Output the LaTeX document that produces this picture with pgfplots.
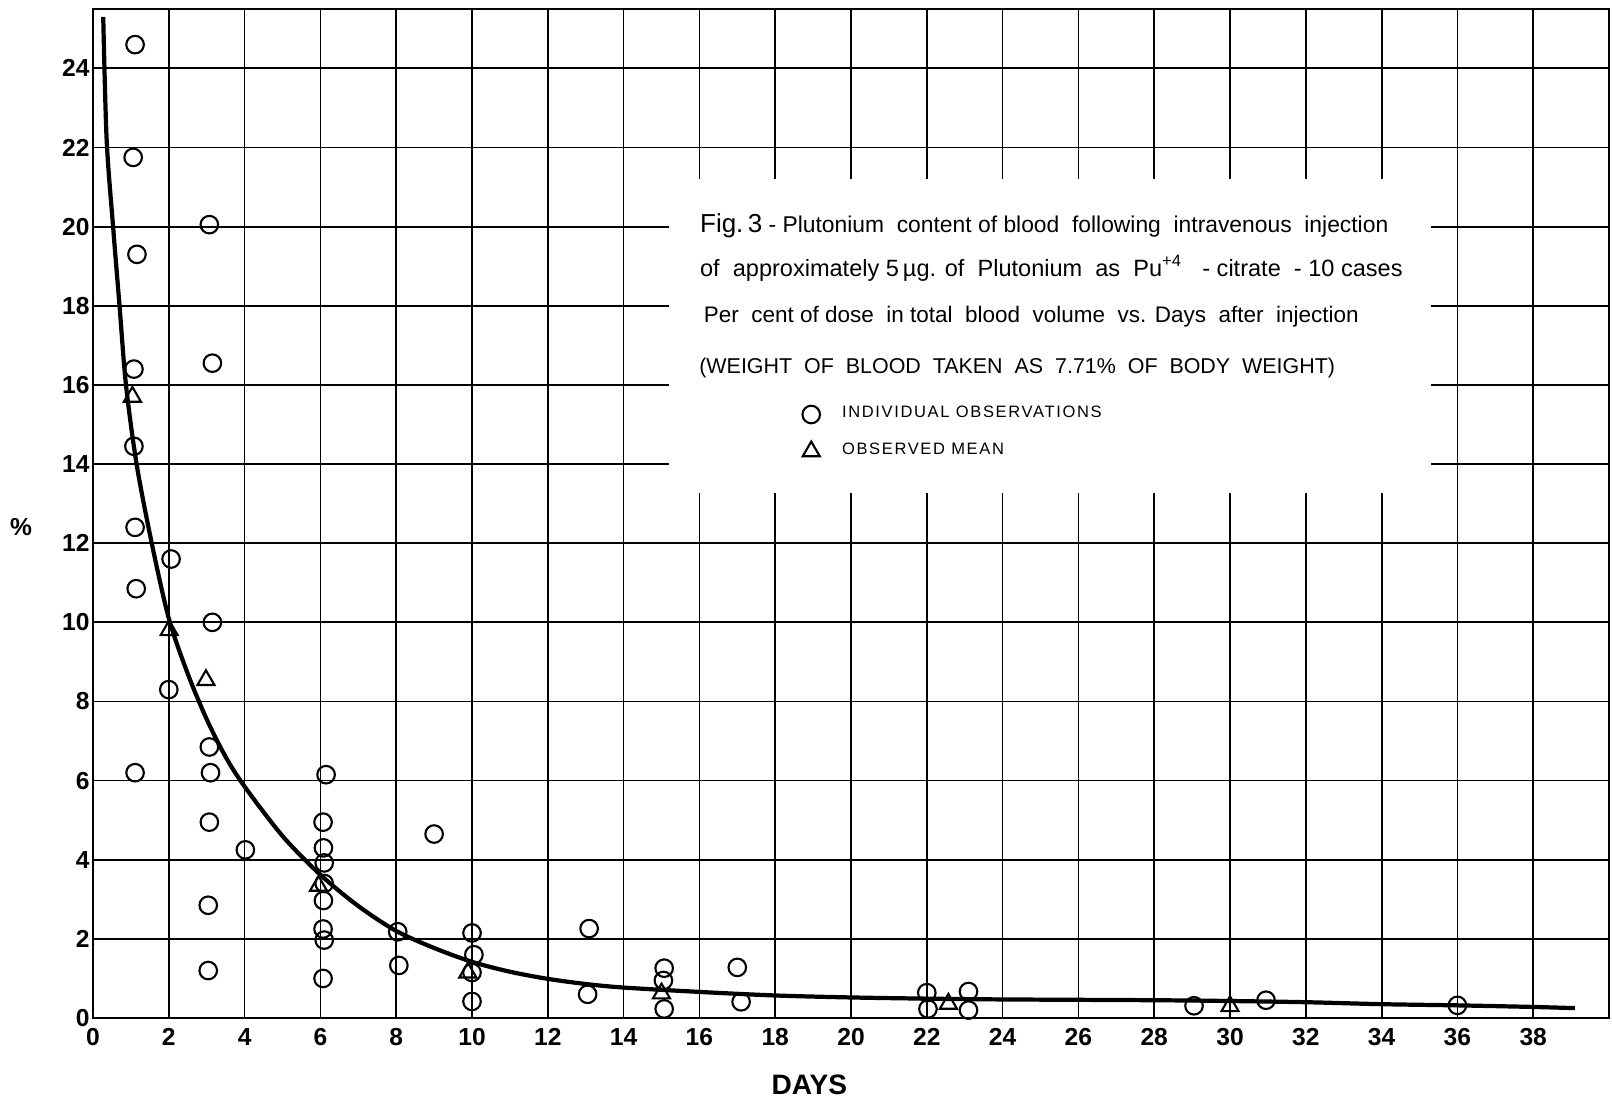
\documentclass[border=0pt]{standalone}
\usepackage{fontspec}
\setmainfont{Liberation Sans}
\usepackage{pgfplots}
\pgfplotsset{compat=1.18}

\begin{document}
\begin{tikzpicture}
\begin{axis}[
    width=151.6mm, height=100.9mm, scale only axis,
    xmin=0, xmax=40, ymin=0, ymax=25.5,
    xtick={0,2,...,38}, ytick={0,2,...,24},
    grid=major,
    major grid style={black, line width=0.5pt},
    axis line style={black, line width=0.8pt},
    major tick length=0pt,
    /pgf/number format/assume math mode=true,
    ticklabel style={font=\fontsize{7}{8}\selectfont\bfseries},
    xticklabel style={yshift=0.2mm},
    yticklabel style={xshift=0.9mm},
    xlabel={DAYS}, ylabel={\%},
    xlabel style={font=\fontsize{8}{9}\selectfont\bfseries,
        at={(axis description cs:0.4725,0)}, anchor=center, yshift=-6.7mm},
    ylabel style={font=\fontsize{7}{8}\selectfont\bfseries,
        at={(axis description cs:0,0.487)}, anchor=center, rotate=-90, xshift=-7.2mm},
    clip=false,
    legend cell align=left,
    legend style={draw=none, fill=none, inner sep=0pt,
        at={(axis cs:18.7,15.66)}, anchor=north west,
        font=\fontsize{4.7}{5}\selectfont\addfontfeatures{LetterSpace=10},
        row sep=0.6mm,
        /tikz/every odd column/.append style={column sep=1.5mm}},
    legend image code/.code={\draw[#1] plot coordinates {(0.1cm,0cm)};},
]
% white panel that holds the caption
\fill[white] (axis cs:15.2,13.28) rectangle (axis cs:35.3,21.2);

% fitted curve
\addplot[black, line width=1.2pt, smooth, forget plot] coordinates {
    (0.27,25.3) (0.36,22.2) (0.53,20) (0.70,18) (0.87,16) (1.15,14)
    (1.55,12) (2.0,10.1) (2.5,8.7) (3.0,7.55) (3.5,6.6) (4,5.85) (5,4.6)
    (6,3.62) (7,2.83) (8,2.2) (9,1.77) (10,1.42) (11,1.17) (12,0.99)
    (13,0.86) (14,0.77) (16,0.66) (18,0.57) (20,0.52) (22,0.49) (24,0.47)
    (28,0.45) (30,0.43) (32,0.40) (34,0.35) (36,0.32) (38,0.28) (39.1,0.25)
};

% individual observations
\addplot[only marks, mark=o, mark size=2.5pt, mark options={black, line width=0.6pt}] coordinates {
    (1.11,24.6) (1.06,21.75) (1.16,19.3) (1.08,16.4) (1.08,14.45)
    (1.11,12.4) (1.14,10.85) (1.11,6.2)
    (2.06,11.6) (2.0,8.3)
    (3.07,20.05) (3.15,16.55) (3.15,10.0) (3.07,6.85) (3.1,6.2)
    (3.07,4.95) (3.04,2.85) (3.04,1.2)
    (4.02,4.25)
    (6.15,6.15) (6.07,4.95) (6.08,4.3) (6.1,3.92) (6.1,3.4) (6.08,2.97)
    (6.07,2.25) (6.1,1.97) (6.07,1.0)
    (8.04,2.18) (8.07,1.33)
    (9.0,4.65)
    (10.0,2.15) (10.05,1.6) (10.0,1.15) (10.0,0.42)
    (13.09,2.26) (13.05,0.6)
    (15.07,1.26) (15.05,0.95) (15.07,0.23)
    (17.0,1.28) (17.1,0.41)
    (22.0,0.64) (22.03,0.23)
    (23.1,0.67) (23.1,0.2)
    (29.05,0.31) (30.95,0.45) (36.0,0.32)
};
\addlegendentry{INDIVIDUAL OBSERVATIONS}

% observed mean
\addplot[only marks, mark=triangle, mark size=2.8pt, mark options={black, line width=0.6pt}] coordinates {
    (1.04,15.7) (2.01,9.8) (2.98,8.54) (5.95,3.34) (9.89,1.15)
    (15.0,0.62) (22.57,0.36) (30.0,0.3)
};
\addlegendentry{OBSERVED MEAN}

\node[anchor=west, inner sep=0pt, font=\fontsize{6.5}{7}\selectfont] at (axis cs:16.0,20.02)
    {{\fontsize{7.4}{8}\selectfont Fig.\,3} - Plutonium\ \ content of blood\ \ following\ \ intravenous\ \ injection};
\node[anchor=west, inner sep=0pt, font=\fontsize{6.7}{7}\selectfont] at (axis cs:16.0,18.95)
    {of\ \ approximately 5\,µg. of\ \ Plutonium\ \ as\ \ Pu\textsuperscript{+4}\ \ \ - citrate\ \ - 10 cases};
\node[anchor=west, inner sep=0pt, font=\fontsize{6.4}{7}\selectfont] at (axis cs:16.1,17.72)
    {Per\ \ cent of dose\ \ in total\ \ blood\ \ volume\ \ vs. Days\ \ after\ \ injection};
\node[anchor=west, inner sep=0pt, font=\fontsize{6.1}{7}\selectfont] at (axis cs:15.98,16.42)
    {(WEIGHT\ \ OF\ \ BLOOD\ \ TAKEN\ \ AS\ \ 7.71\%\ \ OF\ \ BODY\ \ WEIGHT)};

\coordinate (sw) at (rel axis cs:0,0);
\coordinate (ne) at (rel axis cs:1,1);
\end{axis}
\pgfresetboundingbox
\path ([shift={(-9.3mm,-8.3mm)}]sw) rectangle ([shift={(0.3mm,0.9mm)}]ne);
\end{tikzpicture}
\end{document}
